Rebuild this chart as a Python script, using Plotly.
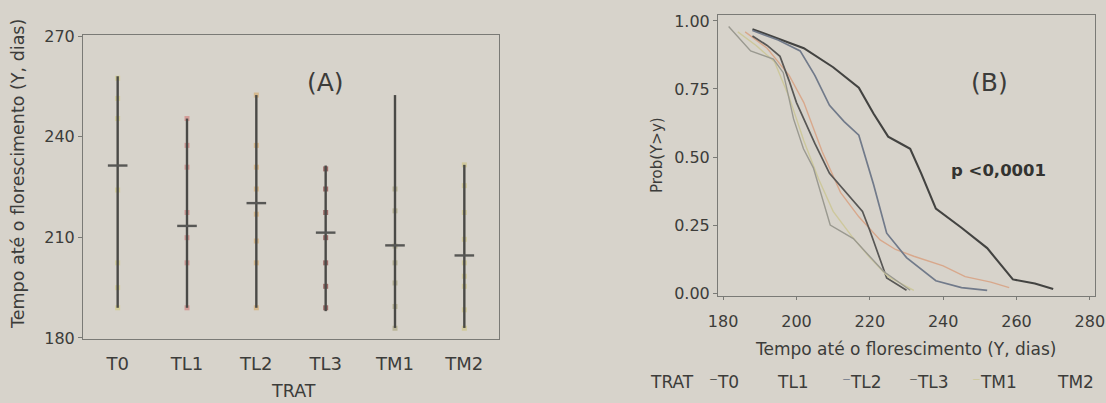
import plotly.graph_objects as go

# ---------------- data ----------------
categories = ["T0", "TL1", "TL2", "TL3", "TM1", "TM2"]
range_min = [189, 189, 189, 188, 183, 183]
range_max = [258, 245.4, 252.4, 231.4, 252.4, 231.6]
means = [231.4, 213.4, 220.2, 211.4, 207.6, 204.6]

obs_T0 = [257.4, 251.4, 245.4, 224.1, 202.4, 195, 189]
obs_TL1 = [245.4, 237.4, 230.9, 217.4, 209.9, 202.4, 189]
obs_TL2 = [252.4, 237.4, 230.9, 224.4, 216.9, 208.9, 202.4, 189]
obs_TL3 = [230.4, 224.4, 217.4, 209.9, 202.4, 195.4, 189]
obs_TM1 = [224.4, 217.9, 207.4, 202.4, 196.4, 189.4, 182.9]
obs_TM2 = [231.6, 225.4, 217.4, 209.4, 202.4, 198.4, 195.4, 188.4, 182.9]
observations = [obs_T0, obs_TL1, obs_TL2, obs_TL3, obs_TM1, obs_TM2]

surv_x_T0 = [188, 195, 202, 210, 217, 221, 225, 229, 231, 234, 238, 245, 252, 259, 265, 270]
surv_y_T0 = [0.97, 0.935, 0.90, 0.83, 0.755, 0.66, 0.575, 0.545, 0.53, 0.44, 0.31, 0.24, 0.165, 0.05, 0.035, 0.015]
surv_x_TL1 = [186, 192, 198, 202, 207, 212, 217, 222.8, 227, 232, 240, 246, 253, 258]
surv_y_TL1 = [0.96, 0.90, 0.80, 0.70, 0.52, 0.37, 0.28, 0.195, 0.16, 0.135, 0.10, 0.06, 0.04, 0.02]
surv_x_TL2 = [188, 195, 201, 205, 209, 213, 217, 221, 224.6, 230, 238, 245, 252]
surv_y_TL2 = [0.965, 0.93, 0.89, 0.80, 0.69, 0.63, 0.58, 0.40, 0.22, 0.13, 0.045, 0.02, 0.01]
surv_x_TL3 = [188, 192, 195.5, 198, 200, 205, 209, 215.5, 218, 220, 224.6, 230]
surv_y_TL3 = [0.945, 0.91, 0.87, 0.78, 0.70, 0.55, 0.44, 0.34, 0.30, 0.23, 0.055, 0.01]
surv_x_TM1 = [184, 189, 194, 198, 202, 206, 210, 215, 220, 225, 232]
surv_y_TM1 = [0.96, 0.91, 0.85, 0.72, 0.56, 0.42, 0.30, 0.21, 0.13, 0.06, 0.01]
surv_x_TM2 = [181.5, 187.5, 193.7, 196.4, 199.2, 201.9, 204.6, 209.2, 215.5, 219, 223.7, 231]
surv_y_TM2 = [0.98, 0.89, 0.86, 0.81, 0.64, 0.53, 0.46, 0.25, 0.20, 0.15, 0.08, 0.01]
surv_x = [surv_x_T0, surv_x_TL1, surv_x_TL2, surv_x_TL3, surv_x_TM1, surv_x_TM2]
surv_y = [surv_y_T0, surv_y_TL1, surv_y_TL2, surv_y_TL3, surv_y_TM1, surv_y_TM2]

ytick_a = [180, 210, 240, 270]
xtick_b = [180, 200, 220, 240, 260, 280]
ytick_b = [0.0, 0.25, 0.50, 0.75, 1.00]

# ---------------- styles ----------------
BG = "#d7d3cb"
TXT = "#3c3c3a"
AX = "#7a7a76"
FONT = "DejaVu Sans"
dot_colors = ["#d3cc8c", "#d28a86", "#d6b07a", "#8a4a48", "#b2ac8a", "#cfc58e"]
curve_colors = ["#434341", "#d8a88c", "#717a8a", "#585755", "#cdc89c", "#9a9990"]
curve_widths = [2.1, 1.4, 1.7, 1.7, 1.4, 1.4]

W, H = 1106, 403
def px(x):
    return x / W
def py(y):
    return 1 - y / H

fig = go.Figure()

# Panel A
for i, cat in enumerate(categories):
    fig.add_trace(go.Scatter(x=[cat] * len(observations[i]), y=observations[i], mode="markers",
                             marker=dict(symbol="square", size=5, color=dot_colors[i], opacity=0.75),
                             xaxis="x", yaxis="y", showlegend=False, hoverinfo="skip"))
for i, cat in enumerate(categories):
    fig.add_trace(go.Scatter(x=[cat, cat], y=[range_min[i], range_max[i]], mode="lines",
                             line=dict(color="#4a4a47", width=2.4),
                             xaxis="x", yaxis="y", showlegend=False, hoverinfo="skip"))
fig.add_trace(go.Scatter(x=categories, y=means, mode="markers",
                         marker=dict(symbol="line-ew", size=14, line=dict(color="#575755", width=2.4)),
                         xaxis="x", yaxis="y", showlegend=False, hoverinfo="skip"))

# Panel B
for i, cat in enumerate(categories):
    fig.add_trace(go.Scatter(x=surv_x[i], y=surv_y[i], mode="lines", name=cat,
                             line=dict(color=curve_colors[i], width=curve_widths[i]),
                             xaxis="x2", yaxis="y2", showlegend=False))

axis_common = dict(showgrid=False, zeroline=False, showline=True, linecolor=AX, linewidth=1,
                   mirror=True, automargin=False)
tf16 = dict(family=FONT, size=16, color=TXT)

fig.update_layout(
    template="none",
    width=W, height=H, margin=dict(l=0, r=0, t=0, b=0, pad=0), autosize=False,
    paper_bgcolor=BG, plot_bgcolor=BG,
    font=dict(family=FONT, color=TXT),
    xaxis=dict(domain=[px(83), px(499)], type="category", categoryorder="array",
               categoryarray=categories, range=[-0.5, 5.5], anchor="y",
               ticks="outside", ticklen=8, tickcolor="rgba(0,0,0,0)",
               tickfont=dict(family=FONT, size=18, color=TXT), **axis_common),
    yaxis=dict(domain=[py(339), py(35)], range=[179.7, 270.3], tickvals=ytick_a, anchor="x",
               ticks="outside", ticklen=4, tickcolor=AX, tickfont=tf16, **axis_common),
    xaxis2=dict(domain=[px(718), px(1095)], range=[178.6, 281.4], tickvals=xtick_b, anchor="y2",
                ticks="outside", ticklen=3, tickcolor=AX, ticklabelstandoff=8, tickfont=tf16,
                **axis_common),
    yaxis2=dict(domain=[py(296), py(15)], range=[-0.011, 1.022], tickvals=ytick_b, tickformat=".2f",
                anchor="x2", ticks="outside", ticklen=4, tickcolor=AX, tickfont=tf16, **axis_common),
)

ann = []
ann.append(dict(text="Tempo até o florescimento (Y, dias)", x=px(18), y=py(174), textangle=-90,
                font=dict(size=17.5, family=FONT, color=TXT)))
ann.append(dict(text="TRAT", x=px(293), y=py(391), font=dict(size=17.5, family=FONT, color=TXT)))
ann.append(dict(text="(A)", x=px(325), y=py(82), font=dict(size=25, family=FONT, color=TXT)))
ann.append(dict(text="(B)", x=px(989), y=py(82), font=dict(size=25, family=FONT, color=TXT)))
ann.append(dict(text="<b>p &lt;0,0001</b>", x=px(998), y=py(170), font=dict(size=16.5, family=FONT, color="#333331")))
ann.append(dict(text="Prob(Y>y)", x=px(657), y=py(155), textangle=-90, font=dict(size=15, family=FONT, color=TXT)))
ann.append(dict(text="Tempo até o florescimento (Y, dias)", x=px(905), y=py(349),
                font=dict(size=17, family=FONT, color=TXT)))
ann.append(dict(text="TRAT", x=px(648), y=py(382), xanchor="left", font=dict(size=17, family=FONT, color=TXT)))
legend_left = [707, 775, 840, 907, 970, 1055]
legend_dash = [True, False, True, True, True, False]
for i, cat in enumerate(categories):
    if legend_dash[i]:
        t = "<span style='color:%s'>⁻</span>%s" % (curve_colors[i], cat)
    else:
        t = cat
    ann.append(dict(text=t, x=px(legend_left[i]), y=py(382), xanchor="left",
                    font=dict(size=17, family=FONT, color=TXT)))
for a in ann:
    a.update(xref="paper", yref="paper", showarrow=False)
    a.setdefault("xanchor", "center")
    a.setdefault("yanchor", "middle")
fig.update_layout(annotations=ann)

fig.write_html("out.html", config={"displayModeBar": False},
               post_script="document.body.style.margin='0';document.body.style.overflow='hidden';"
                           "document.body.style.background='%s';" % BG)
